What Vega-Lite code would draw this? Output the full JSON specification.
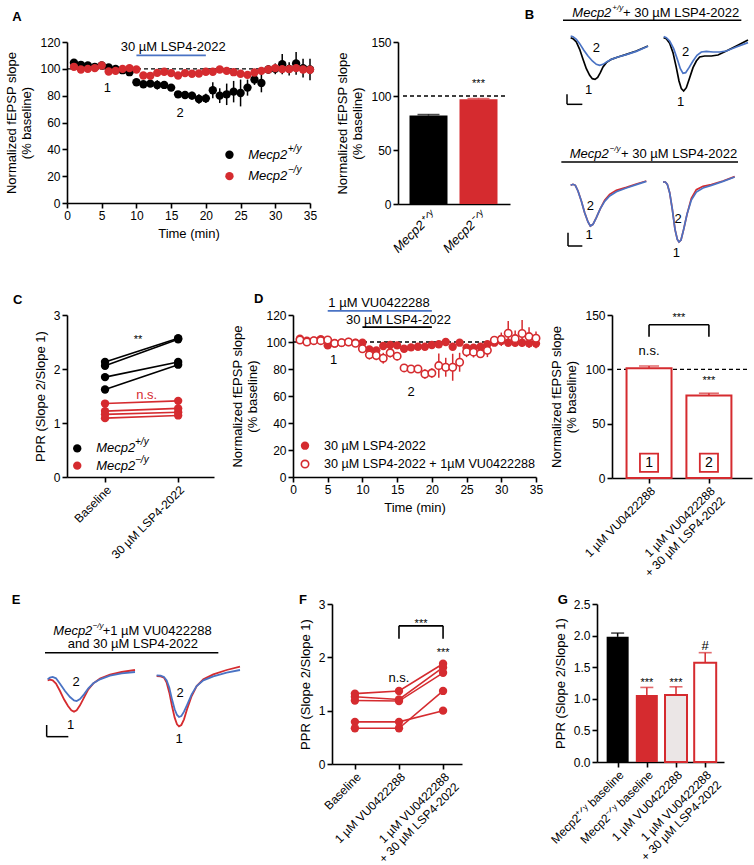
{
"$schema": "https://vega.github.io/schema/vega-lite/v6.json",
"padding": {"left": 5, "top": 3, "right": 2, "bottom": 2},
"background": "white",
"config": {
  "font": "Liberation Sans",
  "view": {"stroke": null},
  "axis": {"domainColor": "black", "domainWidth": 1.6, "tickColor": "black", "tickWidth": 1.6, "tickSize": 5, "labelFontSize": 12, "labelColor": "black", "titleFontSize": 13, "titleFontWeight": "normal", "titleColor": "black", "grid": false, "labelPadding": 2, "titlePadding": 6, "labelFlush": false, "labelOverlap": false},
  "text": {"fontSize": 13, "color": "black"}
},
"datasets": {
  "a_wt": [
    {"x":1,"y":104.5,"lo":103,"hi":106},{"x":2,"y":103,"lo":101.5,"hi":104.5},{"x":3,"y":102.5,"lo":101,"hi":104},{"x":4,"y":101.5,"lo":100,"hi":103},{"x":5,"y":102.5,"lo":101,"hi":104},
    {"x":6,"y":101,"lo":99.5,"hi":102.5},{"x":7,"y":100,"lo":98.5,"hi":101.5},{"x":8,"y":99,"lo":97,"hi":101},{"x":9,"y":97.5,"lo":95.5,"hi":99.5},{"x":10,"y":90,"lo":88,"hi":92},
    {"x":11,"y":88.5,"lo":86,"hi":91},{"x":12,"y":89,"lo":86.5,"hi":91.5},{"x":13,"y":88,"lo":84.5,"hi":91.5},{"x":14,"y":88,"lo":85,"hi":91},{"x":15,"y":86,"lo":83.5,"hi":88.5},
    {"x":16,"y":81,"lo":78.5,"hi":83.5},{"x":17,"y":80.5,"lo":77.5,"hi":83.5},{"x":18,"y":80,"lo":77,"hi":83},{"x":19,"y":77.5,"lo":74,"hi":81},{"x":20,"y":78,"lo":74.5,"hi":81.5},
    {"x":21,"y":84,"lo":78,"hi":90},{"x":22,"y":80,"lo":74.5,"hi":85.5},{"x":23,"y":81,"lo":73,"hi":89},{"x":24,"y":83,"lo":75,"hi":91},{"x":25,"y":82,"lo":72,"hi":92},
    {"x":26,"y":86,"lo":80,"hi":92},{"x":27,"y":92,"lo":88,"hi":96},{"x":28,"y":89.5,"lo":82.5,"hi":96.5},{"x":29,"y":99.5,"lo":96.5,"hi":102.5},{"x":30,"y":100,"lo":96,"hi":104},
    {"x":31,"y":103.5,"lo":96,"hi":111},{"x":32,"y":100,"lo":95,"hi":105},{"x":33,"y":104,"lo":95.5,"hi":112.5},{"x":34,"y":100.5,"lo":93.5,"hi":107.5},{"x":35,"y":99.5,"lo":91.5,"hi":107.5}
  ],
  "a_ko": [
    {"x":1,"y":101.5,"lo":100,"hi":103},{"x":2,"y":99.5,"lo":98,"hi":101},{"x":3,"y":100,"lo":98.5,"hi":101.5},{"x":4,"y":100.5,"lo":99,"hi":102},{"x":5,"y":102.5,"lo":101,"hi":104},
    {"x":6,"y":98,"lo":96.5,"hi":99.5},{"x":7,"y":98.5,"lo":97,"hi":100},{"x":8,"y":100,"lo":98.5,"hi":101.5},{"x":9,"y":100.5,"lo":99,"hi":102},{"x":10,"y":99.5,"lo":98,"hi":101},
    {"x":11,"y":95,"lo":93.5,"hi":96.5},{"x":12,"y":94.8,"lo":93.3,"hi":96.3},{"x":13,"y":97,"lo":95.5,"hi":98.5},{"x":14,"y":97.8,"lo":96.3,"hi":99.3},{"x":15,"y":96.8,"lo":95.3,"hi":98.3},
    {"x":16,"y":95,"lo":93.5,"hi":96.5},{"x":17,"y":96.8,"lo":95.3,"hi":98.3},{"x":18,"y":96.3,"lo":94.8,"hi":97.8},{"x":19,"y":96.5,"lo":95,"hi":98},{"x":20,"y":97.8,"lo":96.3,"hi":99.3},
    {"x":21,"y":97.8,"lo":96.3,"hi":99.3},{"x":22,"y":99.5,"lo":98,"hi":101},{"x":23,"y":98.5,"lo":97,"hi":100},{"x":24,"y":97.5,"lo":96,"hi":99},{"x":25,"y":96.3,"lo":94.8,"hi":97.8},
    {"x":26,"y":95.5,"lo":94,"hi":97},{"x":27,"y":97.3,"lo":95.8,"hi":98.8},{"x":28,"y":98.5,"lo":97,"hi":100},{"x":29,"y":99.5,"lo":97.5,"hi":101.5},{"x":30,"y":100.5,"lo":98.5,"hi":102.5},
    {"x":31,"y":99.8,"lo":97.5,"hi":102},{"x":32,"y":99.8,"lo":97.5,"hi":102},{"x":33,"y":100.5,"lo":98,"hi":103},{"x":34,"y":99.5,"lo":97,"hi":102},{"x":35,"y":99.3,"lo":96.5,"hi":102}
  ],
  "d_f": [
    {"x":1,"y":102.5,"lo":101,"hi":104},{"x":2,"y":101,"lo":99.5,"hi":102.5},{"x":3,"y":101,"lo":99.5,"hi":102.5},{"x":4,"y":102,"lo":100.5,"hi":103.5},{"x":5,"y":97.5,"lo":96,"hi":99},
    {"x":6,"y":98.8,"lo":97.3,"hi":100.3},{"x":7,"y":99.5,"lo":98,"hi":101},{"x":8,"y":100,"lo":98.5,"hi":101.5},{"x":9,"y":99.5,"lo":98,"hi":101},{"x":10,"y":99.5,"lo":98,"hi":101},
    {"x":11,"y":94.5,"lo":92.5,"hi":96.5},{"x":12,"y":93.8,"lo":91.8,"hi":95.8},{"x":13,"y":97,"lo":95,"hi":99},{"x":14,"y":97.8,"lo":95.8,"hi":99.8},{"x":15,"y":97.5,"lo":95.5,"hi":99.5},
    {"x":16,"y":95,"lo":93,"hi":97},{"x":17,"y":96,"lo":94,"hi":98},{"x":18,"y":96.5,"lo":94.5,"hi":98.5},{"x":19,"y":96.5,"lo":94.5,"hi":98.5},{"x":20,"y":97.8,"lo":95.8,"hi":99.8},
    {"x":21,"y":98.3,"lo":96.3,"hi":100.3},{"x":22,"y":100,"lo":98,"hi":102},{"x":23,"y":96.5,"lo":94.5,"hi":98.5},{"x":24,"y":99.5,"lo":97,"hi":102},{"x":25,"y":95.8,"lo":93.3,"hi":98.3},
    {"x":26,"y":95.8,"lo":93.3,"hi":98.3},{"x":27,"y":96.5,"lo":94,"hi":99},{"x":28,"y":98.3,"lo":95.8,"hi":100.8},{"x":29,"y":99.5,"lo":97,"hi":102},{"x":30,"y":100.8,"lo":97.8,"hi":103.8},
    {"x":31,"y":99.5,"lo":96.5,"hi":102.5},{"x":32,"y":99.5,"lo":96.5,"hi":102.5},{"x":33,"y":99.5,"lo":96.5,"hi":102.5},{"x":34,"y":99,"lo":95.5,"hi":102.5},{"x":35,"y":98.8,"lo":95.3,"hi":102.3}
  ],
  "d_o": [
    {"x":1,"y":101.5,"lo":100,"hi":103},{"x":2,"y":100,"lo":98.5,"hi":101.5},{"x":3,"y":101,"lo":99.5,"hi":102.5},{"x":4,"y":101,"lo":99.5,"hi":102.5},{"x":5,"y":101.5,"lo":100,"hi":103},
    {"x":6,"y":99,"lo":97.5,"hi":100.5},{"x":7,"y":99.5,"lo":98,"hi":101},{"x":8,"y":100,"lo":98.5,"hi":101.5},{"x":9,"y":99,"lo":97.5,"hi":100.5},{"x":10,"y":95,"lo":93,"hi":97},
    {"x":11,"y":90.5,"lo":87,"hi":94},{"x":12,"y":90,"lo":86.5,"hi":93.5},{"x":13,"y":88,"lo":84,"hi":92},{"x":14,"y":92,"lo":88.5,"hi":95.5},{"x":15,"y":89.5,"lo":86.5,"hi":92.5},
    {"x":16,"y":80.8,"lo":78.3,"hi":83.3},{"x":17,"y":80,"lo":77,"hi":83},{"x":18,"y":80,"lo":77.5,"hi":82.5},{"x":19,"y":76.3,"lo":72.8,"hi":79.8},{"x":20,"y":77,"lo":73.5,"hi":80.5},
    {"x":21,"y":82.5,"lo":73.5,"hi":91.5},{"x":22,"y":81.3,"lo":74.3,"hi":88.3},{"x":23,"y":81.3,"lo":71.3,"hi":91.3},{"x":24,"y":85,"lo":78,"hi":92},{"x":25,"y":92.8,"lo":88.8,"hi":96.8},
    {"x":26,"y":92.5,"lo":88.5,"hi":96.5},{"x":27,"y":91.3,"lo":88.3,"hi":94.3},{"x":28,"y":93.8,"lo":88.8,"hi":98.8},{"x":29,"y":101.3,"lo":98.3,"hi":104.3},{"x":30,"y":102,"lo":97,"hi":107},
    {"x":31,"y":106.5,"lo":97.5,"hi":115.5},{"x":32,"y":102.5,"lo":96.5,"hi":108.5},{"x":33,"y":106.3,"lo":96.3,"hi":116.3},{"x":34,"y":104,"lo":97,"hi":111},{"x":35,"y":102.8,"lo":97.8,"hi":107.8}
  ],
  "c_wt": [
    {"x":1,"y":2.13,"id":"a"},{"x":2,"y":2.57,"id":"a"},{"x":1,"y":2.06,"id":"b"},{"x":2,"y":2.55,"id":"b"},
    {"x":1,"y":1.85,"id":"c"},{"x":2,"y":2.13,"id":"c"},{"x":1,"y":1.62,"id":"d"},{"x":2,"y":2.08,"id":"d"}
  ],
  "c_ko": [
    {"x":1,"y":1.36,"id":"a"},{"x":2,"y":1.41,"id":"a"},{"x":1,"y":1.22,"id":"b"},{"x":2,"y":1.27,"id":"b"},
    {"x":1,"y":1.16,"id":"c"},{"x":2,"y":1.2,"id":"c"},{"x":1,"y":1.09,"id":"d"},{"x":2,"y":1.14,"id":"d"}
  ],
  "f_l": [
    {"x":1,"y":1.32,"id":"a"},{"x":2,"y":1.37,"id":"a"},{"x":3,"y":1.88,"id":"a"},
    {"x":1,"y":1.26,"id":"b"},{"x":2,"y":1.21,"id":"b"},{"x":3,"y":1.81,"id":"b"},
    {"x":1,"y":1.19,"id":"c"},{"x":2,"y":1.18,"id":"c"},{"x":3,"y":1.71,"id":"c"},
    {"x":1,"y":0.79,"id":"d"},{"x":2,"y":0.79,"id":"d"},{"x":3,"y":1.0,"id":"d"},
    {"x":1,"y":0.67,"id":"e"},{"x":2,"y":0.67,"id":"e"},{"x":3,"y":1.37,"id":"e"}
  ],
  "b_k": [
    {"x":683,"y":115,"s":"L"},{"x":690,"y":118,"s":"L"},{"x":700,"y":128,"s":"L"},{"x":710,"y":150,"s":"L"},{"x":720,"y":180,"s":"L"},{"x":730,"y":208,"s":"L"},{"x":740,"y":228,"s":"L"},{"x":748,"y":238,"s":"L"},{"x":756,"y":240,"s":"L"},{"x":764,"y":234,"s":"L"},{"x":772,"y":220,"s":"L"},{"x":780,"y":203,"s":"L"},{"x":790,"y":190,"s":"L"},{"x":805,"y":180,"s":"L"},{"x":825,"y":173,"s":"L"},{"x":850,"y":165,"s":"L"},{"x":880,"y":155,"s":"L"},{"x":915,"y":140,"s":"L"},
    {"x":962,"y":115,"s":"R"},{"x":970,"y":118,"s":"R"},{"x":980,"y":132,"s":"R"},{"x":990,"y":160,"s":"R"},{"x":1000,"y":205,"s":"R"},{"x":1008,"y":245,"s":"R"},{"x":1015,"y":268,"s":"R"},{"x":1022,"y":275,"s":"R"},{"x":1030,"y":265,"s":"R"},{"x":1040,"y":235,"s":"R"},{"x":1050,"y":205,"s":"R"},{"x":1060,"y":185,"s":"R"},{"x":1070,"y":173,"s":"R"},{"x":1085,"y":170,"s":"R"},{"x":1105,"y":170,"s":"R"},{"x":1125,"y":167,"s":"R"},{"x":1150,"y":155,"s":"R"},{"x":1180,"y":140,"s":"R"},{"x":1215,"y":122,"s":"R"}
  ],
  "b_r": [
    {"x":683,"y":558,"s":"L"},{"x":690,"y":555,"s":"L"},{"x":697,"y":558,"s":"L"},{"x":705,"y":575,"s":"L"},{"x":715,"y":605,"s":"L"},{"x":725,"y":640,"s":"L"},{"x":735,"y":668,"s":"L"},{"x":742,"y":680,"s":"L"},{"x":750,"y":675,"s":"L"},{"x":760,"y":655,"s":"L"},{"x":772,"y":628,"s":"L"},{"x":785,"y":603,"s":"L"},{"x":800,"y":585,"s":"L"},{"x":820,"y":573,"s":"L"},{"x":850,"y":564,"s":"L"},{"x":880,"y":554,"s":"L"},{"x":910,"y":545,"s":"L"},
    {"x":960,"y":548,"s":"R"},{"x":967,"y":548,"s":"R"},{"x":973,"y":555,"s":"R"},{"x":980,"y":580,"s":"R"},{"x":988,"y":630,"s":"R"},{"x":996,"y":690,"s":"R"},{"x":1003,"y":720,"s":"R"},{"x":1008,"y":728,"s":"R"},{"x":1014,"y":722,"s":"R"},{"x":1022,"y":690,"s":"R"},{"x":1032,"y":645,"s":"R"},{"x":1045,"y":597,"s":"R"},{"x":1060,"y":571,"s":"R"},{"x":1080,"y":561,"s":"R"},{"x":1105,"y":556,"s":"R"},{"x":1140,"y":545,"s":"R"},{"x":1175,"y":532,"s":"R"}
  ],
  "b_b": [
    {"x":683,"y":110,"s":"TL"},{"x":690,"y":112,"s":"TL"},{"x":700,"y":120,"s":"TL"},{"x":710,"y":133,"s":"TL"},{"x":722,"y":152,"s":"TL"},{"x":735,"y":170,"s":"TL"},{"x":748,"y":185,"s":"TL"},{"x":760,"y":195,"s":"TL"},{"x":770,"y":198,"s":"TL"},{"x":780,"y":195,"s":"TL"},{"x":792,"y":187,"s":"TL"},{"x":805,"y":180,"s":"TL"},{"x":825,"y":173,"s":"TL"},{"x":850,"y":166,"s":"TL"},{"x":880,"y":156,"s":"TL"},{"x":915,"y":141,"s":"TL"},
    {"x":962,"y":112,"s":"TR"},{"x":970,"y":115,"s":"TR"},{"x":980,"y":125,"s":"TR"},{"x":992,"y":148,"s":"TR"},{"x":1003,"y":180,"s":"TR"},{"x":1012,"y":208,"s":"TR"},{"x":1020,"y":222,"s":"TR"},{"x":1028,"y":220,"s":"TR"},{"x":1038,"y":205,"s":"TR"},{"x":1050,"y":185,"s":"TR"},{"x":1062,"y":168,"s":"TR"},{"x":1075,"y":158,"s":"TR"},{"x":1090,"y":156,"s":"TR"},{"x":1110,"y":158,"s":"TR"},{"x":1130,"y":158,"s":"TR"},{"x":1150,"y":155,"s":"TR"},{"x":1180,"y":143,"s":"TR"},{"x":1215,"y":130,"s":"TR"},
    {"x":683,"y":558,"s":"BL"},{"x":690,"y":555,"s":"BL"},{"x":697,"y":558,"s":"BL"},{"x":705,"y":575,"s":"BL"},{"x":715,"y":605,"s":"BL"},{"x":725,"y":640,"s":"BL"},{"x":735,"y":668,"s":"BL"},{"x":742,"y":680,"s":"BL"},{"x":750,"y":675,"s":"BL"},{"x":760,"y":655,"s":"BL"},{"x":772,"y":628,"s":"BL"},{"x":785,"y":606,"s":"BL"},{"x":800,"y":590,"s":"BL"},{"x":820,"y":577,"s":"BL"},{"x":850,"y":566,"s":"BL"},{"x":880,"y":556,"s":"BL"},{"x":910,"y":546,"s":"BL"},
    {"x":960,"y":548,"s":"BR"},{"x":967,"y":548,"s":"BR"},{"x":973,"y":555,"s":"BR"},{"x":980,"y":580,"s":"BR"},{"x":988,"y":630,"s":"BR"},{"x":996,"y":690,"s":"BR"},{"x":1003,"y":720,"s":"BR"},{"x":1008,"y":728,"s":"BR"},{"x":1014,"y":722,"s":"BR"},{"x":1022,"y":690,"s":"BR"},{"x":1032,"y":645,"s":"BR"},{"x":1045,"y":602,"s":"BR"},{"x":1060,"y":578,"s":"BR"},{"x":1080,"y":566,"s":"BR"},{"x":1105,"y":558,"s":"BR"},{"x":1140,"y":546,"s":"BR"},{"x":1175,"y":533,"s":"BR"}
  ],
  "e_r": [
    {"x":143,"y":328,"s":"L"},{"x":150,"y":326,"s":"L"},{"x":158,"y":328,"s":"L"},{"x":168,"y":338,"s":"L"},{"x":180,"y":360,"s":"L"},{"x":192,"y":385,"s":"L"},{"x":204,"y":405,"s":"L"},{"x":214,"y":418,"s":"L"},{"x":222,"y":422,"s":"L"},{"x":230,"y":418,"s":"L"},{"x":240,"y":403,"s":"L"},{"x":252,"y":380,"s":"L"},{"x":265,"y":355,"s":"L"},{"x":280,"y":337,"s":"L"},{"x":300,"y":323,"s":"L"},{"x":330,"y":311,"s":"L"},{"x":365,"y":303,"s":"L"},{"x":405,"y":297,"s":"L"},
    {"x":470,"y":315,"s":"R"},{"x":482,"y":316,"s":"R"},{"x":492,"y":320,"s":"R"},{"x":500,"y":335,"s":"R"},{"x":508,"y":365,"s":"R"},{"x":516,"y":405,"s":"R"},{"x":524,"y":440,"s":"R"},{"x":531,"y":460,"s":"R"},{"x":537,"y":466,"s":"R"},{"x":544,"y":462,"s":"R"},{"x":552,"y":445,"s":"R"},{"x":562,"y":412,"s":"R"},{"x":575,"y":375,"s":"R"},{"x":590,"y":345,"s":"R"},{"x":610,"y":325,"s":"R"},{"x":640,"y":310,"s":"R"},{"x":680,"y":297,"s":"R"},{"x":720,"y":287,"s":"R"}
  ],
  "e_b": [
    {"x":143,"y":325,"s":"L"},{"x":150,"y":320,"s":"L"},{"x":158,"y":318,"s":"L"},{"x":168,"y":322,"s":"L"},{"x":180,"y":338,"s":"L"},{"x":195,"y":360,"s":"L"},{"x":210,"y":378,"s":"L"},{"x":222,"y":388,"s":"L"},{"x":230,"y":390,"s":"L"},{"x":240,"y":384,"s":"L"},{"x":252,"y":370,"s":"L"},{"x":265,"y":352,"s":"L"},{"x":280,"y":337,"s":"L"},{"x":300,"y":325,"s":"L"},{"x":330,"y":314,"s":"L"},{"x":365,"y":307,"s":"L"},{"x":405,"y":303,"s":"L"},
    {"x":470,"y":313,"s":"R"},{"x":482,"y":314,"s":"R"},{"x":492,"y":318,"s":"R"},{"x":500,"y":328,"s":"R"},{"x":508,"y":350,"s":"R"},{"x":516,"y":385,"s":"R"},{"x":524,"y":415,"s":"R"},{"x":531,"y":432,"s":"R"},{"x":537,"y":438,"s":"R"},{"x":544,"y":435,"s":"R"},{"x":552,"y":422,"s":"R"},{"x":562,"y":400,"s":"R"},{"x":575,"y":370,"s":"R"},{"x":590,"y":345,"s":"R"},{"x":610,"y":328,"s":"R"},{"x":640,"y":316,"s":"R"},{"x":680,"y":305,"s":"R"},{"x":720,"y":297,"s":"R"}
  ]
},
"spacing": 14,
"vconcat": [
 {"spacing": 10, "hconcat": [
  {"spacing": 19, "hconcat": [
   {"width": 243, "height": 161,
    "encoding": {
      "x": {"field": "x", "type": "quantitative", "scale": {"domain": [0, 35], "nice": false, "zero": false}, "axis": {"values": [0,5,10,15,20,25,30,35], "title": "Time (min)"}},
      "y": {"field": "y", "type": "quantitative", "scale": {"domain": [0, 120], "nice": false}, "axis": {"values": [0,20,40,60,80,100,120], "title": ["Normalized fEPSP slope", "(% baseline)"]}}
    },
    "layer": [
      {"data": {"values": [{"x": 0, "x2": 35, "y": 100}]}, "mark": {"type": "rule", "strokeDash": [4, 3], "strokeWidth": 1.3, "color": "black"}, "encoding": {"x2": {"field": "x2"}}},
      {"data": {"values": [{"x": 10, "x2": 20, "y": 110}]}, "mark": {"type": "rule", "strokeWidth": 1.8, "color": "#4a73c4"}, "encoding": {"x2": {"field": "x2"}}},
      {"data": {"values": [{"x": 15.3, "y": 116, "label": "30 µM LSP4-2022"}]}, "mark": {"type": "text", "fontSize": 13}, "encoding": {"text": {"field": "label"}}},
      {"data": {"name": "a_wt"}, "mark": {"type": "rule", "color": "black", "strokeWidth": 1.5}, "encoding": {"y": {"field": "lo", "type": "quantitative"}, "y2": {"field": "hi"}}},
      {"data": {"name": "a_wt"}, "mark": {"type": "point", "filled": true, "opacity": 1, "size": 70, "color": "black"}},
      {"data": {"name": "a_ko"}, "mark": {"type": "rule", "color": "#d52b2f", "strokeWidth": 1.5}, "encoding": {"y": {"field": "lo", "type": "quantitative"}, "y2": {"field": "hi"}}},
      {"data": {"name": "a_ko"}, "mark": {"type": "point", "filled": true, "opacity": 1, "size": 70, "color": "#d52b2f"}},
      {"data": {"values": [{"x": 5.8, "y": 86, "label": "1"}, {"x": 16.3, "y": 67, "label": "2"}]}, "mark": {"type": "text", "fontSize": 13}, "encoding": {"text": {"field": "label"}}},
      {"data": {"values": [{"x": 23.4, "y": 36}]}, "mark": {"type": "point", "filled": true, "opacity": 1, "size": 70, "color": "black"}},
      {"data": {"values": [{"x": 23.4, "y": 20}]}, "mark": {"type": "point", "filled": true, "opacity": 1, "size": 70, "color": "#d52b2f"}},
      {"data": {"values": [{"x": 26.1, "y": 36, "label": "Mecp2"}, {"x": 26.1, "y": 20, "label": "Mecp2"}]}, "mark": {"type": "text", "align": "left", "fontStyle": "italic", "fontSize": 13}, "encoding": {"text": {"field": "label"}}},
      {"data": {"values": [{"x": 31.8, "y": 36, "label": "+/y"}, {"x": 31.8, "y": 20, "label": "−/y"}]}, "mark": {"type": "text", "align": "left", "fontStyle": "italic", "fontSize": 10, "dy": -6}, "encoding": {"text": {"field": "label"}}},
      {"data": {"values": [{"x": -7.9, "y": 139, "label": "A"}]}, "mark": {"type": "text", "align": "left", "fontWeight": "bold", "fontSize": 13}, "encoding": {"text": {"field": "label"}}}
    ]
   },
   {"width": 112, "height": 162,
    "encoding": {
      "x": {"field": "x", "type": "quantitative", "scale": {"domain": [0.49, 2.53], "nice": false, "zero": false}, "axis": {"values": [1, 2], "labelExpr": "datum.value == 1 ? 'Mecp2⁺ᐟʸ' : 'Mecp2⁻ᐟʸ'", "labelAngle": -45, "labelFontStyle": "italic", "labelFontSize": 13, "title": null, "ticks": false, "labelPadding": 4}},
      "y": {"field": "y", "type": "quantitative", "scale": {"domain": [0, 150], "nice": false}, "axis": {"values": [0, 50, 100, 150], "title": ["Normalized fEPSP slope", "(% baseline)"]}}
    },
    "layer": [
      {"data": {"values": [{"x": 1, "y": 82}]}, "mark": {"type": "bar", "width": 38, "color": "black", "orient": "vertical"}},
      {"data": {"values": [{"x": 2, "y": 97}]}, "mark": {"type": "bar", "width": 38, "color": "#d52b2f", "orient": "vertical"}},
      {"data": {"values": [{"x": 1, "y": 82, "hi": 82.8}]}, "mark": {"type": "rule", "color": "black", "strokeWidth": 1.5}, "encoding": {"y2": {"field": "hi"}}},
      {"data": {"values": [{"x": 1, "hi": 82.8}]}, "mark": {"type": "tick", "orient": "horizontal", "size": 22, "thickness": 1.6, "color": "black"}, "encoding": {"y": {"field": "hi", "type": "quantitative"}}},
      {"data": {"values": [{"x": 2, "y": 97, "hi": 97.6}]}, "mark": {"type": "rule", "color": "#d52b2f", "strokeWidth": 1.5}, "encoding": {"y2": {"field": "hi"}}},
      {"data": {"values": [{"x": 2, "hi": 97.6}]}, "mark": {"type": "tick", "orient": "horizontal", "size": 22, "thickness": 1.6, "color": "#d52b2f"}, "encoding": {"y": {"field": "hi", "type": "quantitative"}}},
      {"data": {"values": [{"x": 0.49, "x2": 2.53, "y": 100}]}, "mark": {"type": "rule", "strokeDash": [4, 3], "strokeWidth": 1.3, "color": "black"}, "encoding": {"x2": {"field": "x2"}}},
      {"data": {"values": [{"x": 2, "y": 111, "label": "***"}]}, "mark": {"type": "text", "fontSize": 11}, "encoding": {"text": {"field": "label"}}}
    ]
   }
  ]},
  {"width": 229, "height": 236,
   "encoding": {
     "x": {"field": "x", "type": "quantitative", "scale": {"domain": [531, 1218], "nice": false, "zero": false}, "axis": null},
     "y": {"field": "y", "type": "quantitative", "scale": {"domain": [128, 836], "nice": false, "zero": false, "reverse": true}, "axis": null}
   },
   "layer": [
     {"data": {"name": "b_k"}, "mark": {"type": "line", "color": "black", "strokeWidth": 1.7}, "encoding": {"detail": {"field": "s"}}},
     {"data": {"name": "b_r"}, "mark": {"type": "line", "color": "#d52b2f", "strokeWidth": 1.7}, "encoding": {"detail": {"field": "s"}}},
     {"data": {"name": "b_b"}, "mark": {"type": "line", "color": "#4a73c4", "strokeWidth": 1.7}, "encoding": {"detail": {"field": "s"}}},
     {"data": {"values": [{"x": 660, "x2": 1195, "y": 63, "y2": 63}, {"x": 655, "x2": 1185, "y": 488, "y2": 488}, {"x": 672, "x2": 672, "y": 285, "y2": 315}, {"x": 672, "x2": 718, "y": 315, "y2": 315}, {"x": 675, "x2": 675, "y": 700, "y2": 740}, {"x": 675, "x2": 718, "y": 740, "y2": 740}]}, "mark": {"type": "rule", "color": "black", "strokeWidth": 1.5}, "encoding": {"x2": {"field": "x2"}, "y2": {"field": "y2"}}},
     {"data": {"values": [{"x": 760, "y": 145, "label": "2"}, {"x": 737, "y": 272, "label": "1"}, {"x": 1028, "y": 158, "label": "2"}, {"x": 1013, "y": 308, "label": "1"}, {"x": 742, "y": 620, "label": "2"}, {"x": 738, "y": 707, "label": "1"}, {"x": 1005, "y": 660, "label": "2"}, {"x": 1000, "y": 760, "label": "1"}]}, "mark": {"type": "text", "fontSize": 13}, "encoding": {"text": {"field": "label"}}},
     {"data": {"values": [{"x": 840, "y": 40, "label": "+ 30 µM LSP4-2022"}, {"x": 834, "y": 465, "label": "+ 30 µM LSP4-2022"}]}, "mark": {"type": "text", "align": "left", "fontSize": 13}, "encoding": {"text": {"field": "label"}}},
     {"data": {"values": [{"x": 688, "y": 40, "label": "Mecp2"}, {"x": 680, "y": 465, "label": "Mecp2"}]}, "mark": {"type": "text", "align": "left", "fontStyle": "italic", "fontSize": 13}, "encoding": {"text": {"field": "label"}}},
     {"data": {"values": [{"x": 808, "y": 40, "label": "+/y"}, {"x": 800, "y": 465, "label": "−/y"}]}, "mark": {"type": "text", "align": "left", "fontStyle": "italic", "fontSize": 8, "dy": -5}, "encoding": {"text": {"field": "label"}}},
     {"data": {"values": [{"x": 545, "y": 48, "label": "B"}]}, "mark": {"type": "text", "align": "left", "fontWeight": "bold", "fontSize": 13}, "encoding": {"text": {"field": "label"}}}
   ]
  }
 ]},
 {"spacing": 7, "hconcat": [
  {"spacing": 17, "hconcat": [
   {"width": 147, "height": 162,
    "encoding": {
      "x": {"field": "x", "type": "quantitative", "scale": {"domain": [0.48, 2.49], "nice": false, "zero": false}, "axis": {"values": [1, 2], "labelExpr": "datum.value == 1 ? 'Baseline' : '30 µM LSP4-2022'", "labelAngle": -45, "title": null}},
      "y": {"field": "y", "type": "quantitative", "scale": {"domain": [0, 3], "nice": false}, "axis": {"values": [0, 1, 2, 3], "title": "PPR (Slope 2/Slope 1)"}}
    },
    "layer": [
      {"data": {"name": "c_wt"}, "mark": {"type": "line", "color": "black", "strokeWidth": 1.6}, "encoding": {"detail": {"field": "id"}}},
      {"data": {"name": "c_wt"}, "mark": {"type": "point", "filled": true, "opacity": 1, "size": 70, "color": "black"}},
      {"data": {"name": "c_ko"}, "mark": {"type": "line", "color": "#d52b2f", "strokeWidth": 1.6}, "encoding": {"detail": {"field": "id"}}},
      {"data": {"name": "c_ko"}, "mark": {"type": "point", "filled": true, "opacity": 1, "size": 70, "color": "#d52b2f"}},
      {"data": {"values": [{"x": 1.45, "y": 2.53, "label": "**"}]}, "mark": {"type": "text", "fontSize": 11}, "encoding": {"text": {"field": "label"}}},
      {"data": {"values": [{"x": 1.57, "y": 1.51, "label": "n.s."}]}, "mark": {"type": "text", "fontSize": 13, "color": "#d52b2f"}, "encoding": {"text": {"field": "label"}}},
      {"data": {"values": [{"x": 0.62, "y": 0.53}]}, "mark": {"type": "point", "filled": true, "opacity": 1, "size": 70, "color": "black"}},
      {"data": {"values": [{"x": 0.62, "y": 0.21}]}, "mark": {"type": "point", "filled": true, "opacity": 1, "size": 70, "color": "#d52b2f"}},
      {"data": {"values": [{"x": 0.88, "y": 0.53, "label": "Mecp2"}, {"x": 0.88, "y": 0.21, "label": "Mecp2"}]}, "mark": {"type": "text", "align": "left", "fontStyle": "italic", "fontSize": 13}, "encoding": {"text": {"field": "label"}}},
      {"data": {"values": [{"x": 1.41, "y": 0.53, "label": "+/y"}, {"x": 1.41, "y": 0.21, "label": "−/y"}]}, "mark": {"type": "text", "align": "left", "fontStyle": "italic", "fontSize": 10, "dy": -6}, "encoding": {"text": {"field": "label"}}},
      {"data": {"values": [{"x": -0.26, "y": 3.28, "label": "C"}]}, "mark": {"type": "text", "align": "left", "fontWeight": "bold", "fontSize": 13}, "encoding": {"text": {"field": "label"}}}
    ]
   },
   {"width": 243, "height": 162,
    "encoding": {
      "x": {"field": "x", "type": "quantitative", "scale": {"domain": [0, 35], "nice": false, "zero": false}, "axis": {"values": [0,5,10,15,20,25,30,35], "title": "Time (min)"}},
      "y": {"field": "y", "type": "quantitative", "scale": {"domain": [0, 120], "nice": false}, "axis": {"values": [0,20,40,60,80,100,120], "title": ["Normalized fEPSP slope", "(% baseline)"]}}
    },
    "layer": [
      {"data": {"values": [{"x": 0, "x2": 35, "y": 100}]}, "mark": {"type": "rule", "strokeDash": [4, 3], "strokeWidth": 1.3, "color": "black"}, "encoding": {"x2": {"field": "x2"}}},
      {"data": {"values": [{"x": 5, "x2": 20, "y": 123}]}, "mark": {"type": "rule", "strokeWidth": 1.8, "color": "#4a73c4"}, "encoding": {"x2": {"field": "x2"}}},
      {"data": {"values": [{"x": 10, "x2": 20, "y": 111}]}, "mark": {"type": "rule", "strokeWidth": 1.8, "color": "black"}, "encoding": {"x2": {"field": "x2"}}},
      {"data": {"values": [{"x": 12.4, "y": 129, "label": "1 µM VU0422288"}, {"x": 15.2, "y": 116, "label": "30 µM LSP4-2022"}]}, "mark": {"type": "text", "fontSize": 13}, "encoding": {"text": {"field": "label"}}},
      {"data": {"name": "d_f"}, "mark": {"type": "rule", "color": "#d52b2f", "strokeWidth": 1.5}, "encoding": {"y": {"field": "lo", "type": "quantitative"}, "y2": {"field": "hi"}}},
      {"data": {"name": "d_f"}, "mark": {"type": "point", "filled": true, "opacity": 1, "size": 70, "color": "#d52b2f"}},
      {"data": {"name": "d_o"}, "mark": {"type": "rule", "color": "#d52b2f", "strokeWidth": 1.5}, "encoding": {"y": {"field": "lo", "type": "quantitative"}, "y2": {"field": "hi"}}},
      {"data": {"name": "d_o"}, "mark": {"type": "point", "filled": true, "opacity": 1, "size": 55, "fill": "white", "stroke": "#d52b2f", "strokeWidth": 1.6}},
      {"data": {"values": [{"x": 5.85, "y": 87, "label": "1"}, {"x": 17, "y": 63, "label": "2"}]}, "mark": {"type": "text", "fontSize": 13}, "encoding": {"text": {"field": "label"}}},
      {"data": {"values": [{"x": 1.73, "y": 23.2}]}, "mark": {"type": "point", "filled": true, "opacity": 1, "size": 70, "color": "#d52b2f"}},
      {"data": {"values": [{"x": 1.73, "y": 9.6}]}, "mark": {"type": "point", "filled": true, "opacity": 1, "size": 55, "fill": "white", "stroke": "#d52b2f", "strokeWidth": 1.6}},
      {"data": {"values": [{"x": 4.47, "y": 23.2, "label": "30 µM LSP4-2022"}, {"x": 4.47, "y": 9.6, "label": "30 µM LSP4-2022 + 1µM VU0422288"}]}, "mark": {"type": "text", "align": "left", "fontSize": 12.6}, "encoding": {"text": {"field": "label"}}},
      {"data": {"values": [{"x": -5.6, "y": 131.9, "label": "D"}]}, "mark": {"type": "text", "align": "left", "fontWeight": "bold", "fontSize": 13}, "encoding": {"text": {"field": "label"}}}
    ]
   }
  ]},
  {"width": 140, "height": 163,
   "encoding": {
     "x": {"field": "x", "type": "quantitative", "scale": {"domain": [0.465, 2.636], "nice": false, "zero": false}, "axis": {"values": [1, 2], "labelExpr": "datum.value == 1 ? '1 µM VU0422288' : ['1 µM VU0422288', '+ 30 µM LSP4-2022']", "labelAngle": -45, "title": null}},
     "y": {"field": "y", "type": "quantitative", "scale": {"domain": [0, 150], "nice": false}, "axis": {"values": [0, 50, 100, 150], "title": ["Normalized fEPSP slope", "(% baseline)"]}}
   },
   "layer": [
     {"data": {"values": [{"x": 0.465, "x2": 2.636, "y": 100}]}, "mark": {"type": "rule", "strokeDash": [4, 3], "strokeWidth": 1.3, "color": "black"}, "encoding": {"x2": {"field": "x2"}}},
     {"data": {"values": [{"x": 1, "y": 101}, {"x": 2, "y": 76}]}, "mark": {"type": "bar", "width": 45, "fill": "white", "stroke": "#d52b2f", "strokeWidth": 2, "orient": "vertical"}},
     {"data": {"values": [{"x": 1, "y": 101, "hi": 103}, {"x": 2, "y": 76, "hi": 78}]}, "mark": {"type": "rule", "color": "#d52b2f", "strokeWidth": 1.5}, "encoding": {"y2": {"field": "hi"}}},
     {"data": {"values": [{"x": 1, "hi": 103}, {"x": 2, "hi": 78}]}, "mark": {"type": "tick", "orient": "horizontal", "size": 20, "thickness": 1.6, "color": "#d52b2f"}, "encoding": {"y": {"field": "hi", "type": "quantitative"}}},
     {"data": {"values": [{"x": 1, "y": 14}, {"x": 2, "y": 14}]}, "mark": {"type": "point", "shape": "square", "size": 330, "filled": false, "opacity": 1, "color": "#d52b2f", "strokeWidth": 1.8}},
     {"data": {"values": [{"x": 1, "y": 14, "label": "1"}, {"x": 2, "y": 14, "label": "2"}]}, "mark": {"type": "text", "fontSize": 14}, "encoding": {"text": {"field": "label"}}},
     {"data": {"values": [{"x": 1, "y": 117, "label": "n.s."}]}, "mark": {"type": "text", "fontSize": 13}, "encoding": {"text": {"field": "label"}}},
     {"data": {"values": [{"x": 2, "y": 89, "label": "***"}, {"x": 1.5, "y": 147.5, "label": "***"}]}, "mark": {"type": "text", "fontSize": 11}, "encoding": {"text": {"field": "label"}}},
     {"data": {"values": [{"x": 1, "x2": 1, "y": 130, "y2": 141}, {"x": 1, "x2": 2, "y": 141, "y2": 141}, {"x": 2, "x2": 2, "y": 130, "y2": 141}]}, "mark": {"type": "rule", "color": "black", "strokeWidth": 1.6}, "encoding": {"x2": {"field": "x2"}, "y2": {"field": "y2"}}}
   ]
  }
 ]},
 {"spacing": 86, "hconcat": [
  {"spacing": 48, "hconcat": [
   {"width": 183, "height": 147,
    "encoding": {
      "x": {"field": "x", "type": "quantitative", "scale": {"domain": [201, 750], "nice": false, "zero": false}, "axis": null},
      "y": {"field": "y", "type": "quantitative", "scale": {"domain": [99, 540], "nice": false, "zero": false, "reverse": true}, "axis": null}
    },
    "layer": [
      {"data": {"name": "e_r"}, "mark": {"type": "line", "color": "#d52b2f", "strokeWidth": 1.8}, "encoding": {"detail": {"field": "s"}}},
      {"data": {"name": "e_b"}, "mark": {"type": "line", "color": "#4a73c4", "strokeWidth": 1.8}, "encoding": {"detail": {"field": "s"}}},
      {"data": {"values": [{"x": 135, "x2": 655, "y": 245, "y2": 245}, {"x": 140, "x2": 140, "y": 462, "y2": 497}, {"x": 140, "x2": 205, "y": 497, "y2": 497}]}, "mark": {"type": "rule", "color": "black", "strokeWidth": 1.5}, "encoding": {"x2": {"field": "x2"}, "y2": {"field": "y2"}}},
      {"data": {"values": [{"x": 228, "y": 333, "label": "2"}, {"x": 212, "y": 463, "label": "1"}, {"x": 540, "y": 367, "label": "2"}, {"x": 537, "y": 503, "label": "1"}]}, "mark": {"type": "text", "fontSize": 13}, "encoding": {"text": {"field": "label"}}},
      {"data": {"values": [{"x": 308, "y": 180, "label": "+1 µM VU0422288"}, {"x": 203, "y": 220, "label": "and 30 µM LSP4-2022"}]}, "mark": {"type": "text", "align": "left", "fontSize": 13}, "encoding": {"text": {"field": "label"}}},
      {"data": {"values": [{"x": 160, "y": 180, "label": "Mecp2"}]}, "mark": {"type": "text", "align": "left", "fontStyle": "italic", "fontSize": 13}, "encoding": {"text": {"field": "label"}}},
      {"data": {"values": [{"x": 278, "y": 180, "label": "−/y"}]}, "mark": {"type": "text", "align": "left", "fontStyle": "italic", "fontSize": 8, "dy": -5}, "encoding": {"text": {"field": "label"}}},
      {"data": {"values": [{"x": 35, "y": 86, "label": "E"}]}, "mark": {"type": "text", "align": "left", "fontWeight": "bold", "fontSize": 13}, "encoding": {"text": {"field": "label"}}}
    ]
   },
   {"width": 130, "height": 160,
    "encoding": {
      "x": {"field": "x", "type": "quantitative", "scale": {"domain": [0.48, 3.43], "nice": false, "zero": false}, "axis": {"values": [1, 2, 3], "labelExpr": "datum.value == 1 ? 'Baseline' : datum.value == 2 ? '1 µM VU0422288' : ['1 µM VU0422288', '+ 30 µM LSP4-2022']", "labelAngle": -45, "title": null}},
      "y": {"field": "y", "type": "quantitative", "scale": {"domain": [0, 3], "nice": false}, "axis": {"values": [0, 1, 2, 3], "title": "PPR (Slope 2/Slope 1)"}}
    },
    "layer": [
      {"data": {"name": "f_l"}, "mark": {"type": "line", "color": "#d52b2f", "strokeWidth": 1.6}, "encoding": {"detail": {"field": "id"}}},
      {"data": {"name": "f_l"}, "mark": {"type": "point", "filled": true, "opacity": 1, "size": 70, "color": "#d52b2f"}},
      {"data": {"values": [{"x": 2, "y": 1.61, "label": "n.s."}]}, "mark": {"type": "text", "fontSize": 13}, "encoding": {"text": {"field": "label"}}},
      {"data": {"values": [{"x": 3, "y": 2.08, "label": "***"}, {"x": 2.5, "y": 2.63, "label": "***"}]}, "mark": {"type": "text", "fontSize": 11}, "encoding": {"text": {"field": "label"}}},
      {"data": {"values": [{"x": 2, "x2": 2, "y": 2.35, "y2": 2.59}, {"x": 2, "x2": 3, "y": 2.59, "y2": 2.59}, {"x": 3, "x2": 3, "y": 2.35, "y2": 2.59}]}, "mark": {"type": "rule", "color": "black", "strokeWidth": 1.6}, "encoding": {"x2": {"field": "x2"}, "y2": {"field": "y2"}}},
      {"data": {"values": [{"x": -0.27, "y": 3.075, "label": "F"}]}, "mark": {"type": "text", "align": "left", "fontWeight": "bold", "fontSize": 13}, "encoding": {"text": {"field": "label"}}}
    ]
   }
  ]},
  {"width": 127, "height": 158,
   "encoding": {
     "x": {"field": "x", "type": "quantitative", "scale": {"domain": [0.464, 4.473], "nice": false, "zero": false}, "axis": {"values": [1, 2, 3, 4], "labelExpr": "datum.value == 1 ? 'Mecp2⁺ᐟʸ baseline' : datum.value == 2 ? 'Mecp2⁻ᐟʸ baseline' : datum.value == 3 ? '1 µM VU0422288' : ['1 µM VU0422288', '+ 30 µM LSP4-2022']", "labelAngle": -45, "title": null}},
     "y": {"field": "y", "type": "quantitative", "scale": {"domain": [0, 2.5], "nice": false}, "axis": {"values": [0, 0.5, 1, 1.5, 2, 2.5], "format": ".1f", "title": "PPR (Slope 2/Slope 1)"}}
   },
   "layer": [
     {"data": {"values": [{"x": 1, "y": 1.98}]}, "mark": {"type": "bar", "width": 22, "color": "black", "orient": "vertical"}},
     {"data": {"values": [{"x": 2, "y": 1.06}]}, "mark": {"type": "bar", "width": 22, "color": "#d52b2f", "orient": "vertical"}},
     {"data": {"values": [{"x": 3, "y": 1.06}]}, "mark": {"type": "bar", "width": 22, "fill": "#ebe6e6", "stroke": "#d52b2f", "strokeWidth": 2, "orient": "vertical"}},
     {"data": {"values": [{"x": 4, "y": 1.57}]}, "mark": {"type": "bar", "width": 22, "fill": "white", "stroke": "#d52b2f", "strokeWidth": 2, "orient": "vertical"}},
     {"data": {"values": [{"x": 1, "y": 1.98, "hi": 2.04}]}, "mark": {"type": "rule", "color": "black", "strokeWidth": 1.5}, "encoding": {"y2": {"field": "hi"}}},
     {"data": {"values": [{"x": 1, "hi": 2.04}]}, "mark": {"type": "tick", "orient": "horizontal", "size": 13, "thickness": 1.6, "color": "black"}, "encoding": {"y": {"field": "hi", "type": "quantitative"}}},
     {"data": {"values": [{"x": 2, "y": 1.06, "hi": 1.18}, {"x": 3, "y": 1.06, "hi": 1.19}, {"x": 4, "y": 1.57, "hi": 1.73}]}, "mark": {"type": "rule", "color": "#d52b2f", "strokeWidth": 1.5}, "encoding": {"y2": {"field": "hi"}}},
     {"data": {"values": [{"x": 2, "hi": 1.18}, {"x": 3, "hi": 1.19}, {"x": 4, "hi": 1.73}]}, "mark": {"type": "tick", "orient": "horizontal", "size": 13, "thickness": 1.6, "color": "#d52b2f"}, "encoding": {"y": {"field": "hi", "type": "quantitative"}}},
     {"data": {"values": [{"x": 2, "y": 1.25, "label": "***"}, {"x": 3, "y": 1.25, "label": "***"}]}, "mark": {"type": "text", "fontSize": 11}, "encoding": {"text": {"field": "label"}}},
     {"data": {"values": [{"x": 4, "y": 1.84, "label": "#"}]}, "mark": {"type": "text", "fontSize": 13}, "encoding": {"text": {"field": "label"}}},
     {"data": {"values": [{"x": -1.05, "y": 2.563, "label": "G"}]}, "mark": {"type": "text", "align": "left", "fontWeight": "bold", "fontSize": 13}, "encoding": {"text": {"field": "label"}}}
   ]
  }
 ]}
]
}
